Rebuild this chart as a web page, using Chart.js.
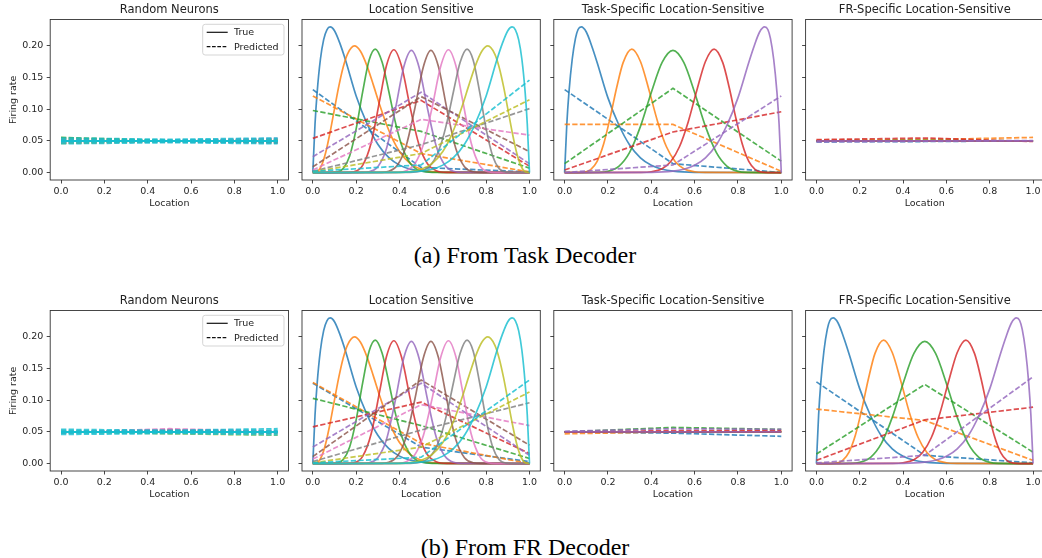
<!DOCTYPE html>
<html><head><meta charset="utf-8">
<script src="https://cdn.jsdelivr.net/npm/chart.js@4.4.1/dist/chart.umd.min.js"></script>
<style>
html,body{margin:0;padding:0;background:#fff;overflow:hidden;}
#wrap{position:relative;width:1042px;height:558px;overflow:hidden;background:#fff;}
canvas{position:absolute;}
.cap{position:absolute;left:4px;width:1042px;text-align:center;font-family:"Liberation Serif","Times New Roman",serif;font-size:24px;color:#000;line-height:28px;white-space:nowrap;}
</style></head><body>
<div id="wrap">
<canvas id="c0"></canvas><canvas id="c1"></canvas><canvas id="c2"></canvas><canvas id="c3"></canvas>
<canvas id="c4"></canvas><canvas id="c5"></canvas><canvas id="c6"></canvas><canvas id="c7"></canvas>
<div class="cap" id="cap0" style="top:241px"></div>
<div class="cap" id="cap1" style="top:533px"></div>
</div>
<script>
// ---------------- data ----------------
const panelTitles = ['Random Neurons', 'Location Sensitive', 'Task-Specific Location-Sensitive', 'FR-Specific Location-Sensitive'];
const captions = ['(a) From Task Decoder', '(b) From FR Decoder'];
const xTicks = [0, 0.2, 0.4, 0.6, 0.8, 1.0];
const yTicks = [0, 0.05, 0.10, 0.15, 0.20];
const predLocations = [0, 0.5, 1];
const flatLocations = [0, 1];
const legendLabels = ['True', 'Predicted'];

// true tuning curves of location-sensitive neurons: [location, firing rate]
const lsBlue = [[0,0],[0.01,0.076],[0.02,0.127],[0.035,0.179],[0.05,0.21],[0.065,0.2255],[0.08,0.23],[0.1,0.224],[0.125,0.204],[0.15,0.1785],[0.2,0.121],[0.25,0.0774],[0.3,0.0447],[0.35,0.0238],[0.4,0.0117],[0.45,0.0053],[0.5,0.0022],[0.6,0.0003],[1,0]];
const lsOrange = [[0,0],[0.02,0.0013],[0.04,0.0109],[0.06,0.0324],[0.08,0.0641],[0.1,0.1007],[0.12,0.1365],[0.14,0.1664],[0.16,0.1872],[0.192,0.2],[0.22,0.1916],[0.25,0.1686],[0.28,0.1377],[0.31,0.1054],[0.34,0.076],[0.37,0.0517],[0.4,0.0334],[0.45,0.0141],[0.5,0.0051],[0.55,0.0015],[0.6,0.0004],[1,0]];
const lsGreen = [[0,0],[0.08,0],[0.11,0.0007],[0.14,0.0062],[0.17,0.0262],[0.2,0.069],[0.23,0.1275],[0.26,0.1777],[0.288,0.195],[0.32,0.1742],[0.35,0.1293],[0.38,0.0808],[0.41,0.043],[0.44,0.0194],[0.47,0.0075],[0.5,0.0025],[0.55,0.0003],[1,0]];
const lsRed = [[0,0],[0.15,0],[0.19,0.0013],[0.23,0.0114],[0.27,0.0479],[0.31,0.1167],[0.34,0.169],[0.374,0.194],[0.41,0.1675],[0.45,0.1017],[0.49,0.0439],[0.53,0.0135],[0.57,0.0029],[0.62,0.0003],[1,0]];
const lsPurple = [[0,0],[0.22,0.0001],[0.26,0.0012],[0.3,0.0092],[0.34,0.038],[0.38,0.0984],[0.42,0.1672],[0.455,0.193],[0.49,0.1669],[0.53,0.1],[0.57,0.0412],[0.61,0.0115],[0.65,0.002],[0.7,0.0001],[1,0]];
const lsBrown = [[0,0],[0.3,0.0001],[0.35,0.002],[0.39,0.0115],[0.43,0.0412],[0.47,0.1],[0.51,0.1669],[0.545,0.193],[0.58,0.1672],[0.62,0.0984],[0.66,0.038],[0.7,0.0092],[0.74,0.0012],[0.78,0.0001],[1,0]];
const lsPink = [[0,0],[0.38,0.0003],[0.43,0.0029],[0.47,0.0135],[0.51,0.0439],[0.55,0.1017],[0.59,0.1675],[0.626,0.194],[0.66,0.169],[0.69,0.1167],[0.73,0.0479],[0.77,0.0114],[0.81,0.0013],[0.85,0],[1,0]];
const lsGray = [[0,0],[0.45,0.0003],[0.5,0.0025],[0.53,0.0075],[0.56,0.0194],[0.59,0.043],[0.62,0.0808],[0.65,0.1293],[0.68,0.1742],[0.712,0.195],[0.74,0.1777],[0.77,0.1275],[0.8,0.069],[0.83,0.0262],[0.86,0.0062],[0.89,0.0007],[0.92,0],[1,0]];
const lsOlive = [[0,0],[0.4,0.0004],[0.45,0.0015],[0.5,0.0051],[0.55,0.0141],[0.6,0.0334],[0.63,0.0517],[0.66,0.076],[0.69,0.1054],[0.72,0.1377],[0.75,0.1686],[0.78,0.1916],[0.808,0.2],[0.84,0.1872],[0.86,0.1664],[0.88,0.1365],[0.9,0.1007],[0.92,0.0641],[0.94,0.0324],[0.96,0.0109],[0.98,0.0013],[1,0]];
const lsCyan = [[0,0],[0.4,0.0003],[0.5,0.0022],[0.55,0.0053],[0.6,0.0117],[0.65,0.0238],[0.7,0.0447],[0.75,0.0774],[0.8,0.121],[0.85,0.1785],[0.875,0.204],[0.9,0.224],[0.92,0.23],[0.935,0.2255],[0.95,0.21],[0.965,0.179],[0.98,0.127],[0.99,0.076],[1,0]];
const lsTrue = [lsBlue, lsOrange, lsGreen, lsRed, lsPurple, lsBrown, lsPink, lsGray, lsOlive, lsCyan];

// true tuning curves of task-specific / FR-specific neurons
const tsBlue = [[0,0],[0.01,0.076],[0.02,0.127],[0.035,0.179],[0.05,0.212],[0.062,0.226],[0.077,0.23],[0.1,0.222],[0.125,0.2],[0.15,0.174],[0.2,0.118],[0.25,0.0755],[0.3,0.0435],[0.35,0.0232],[0.4,0.0114],[0.45,0.0052],[0.5,0.0021],[0.6,0.0003],[1,0]];
const tsOrange = [[0,0],[0.06,0],[0.09,0.0006],[0.12,0.0046],[0.15,0.0176],[0.18,0.045],[0.21,0.0865],[0.24,0.1339],[0.27,0.1736],[0.31,0.195],[0.35,0.1755],[0.39,0.1297],[0.43,0.0796],[0.47,0.0407],[0.51,0.0174],[0.55,0.0061],[0.6,0.0012],[0.65,0.0002],[1,0]];
const tsGreen = [[0,0],[0.1,0],[0.15,0.0002],[0.2,0.0019],[0.25,0.0099],[0.3,0.0319],[0.35,0.0729],[0.4,0.1266],[0.45,0.1739],[0.5,0.193],[0.55,0.1739],[0.6,0.1266],[0.65,0.0729],[0.7,0.0319],[0.75,0.0099],[0.8,0.0019],[0.85,0.0002],[0.9,0],[1,0]];
const tsRed = [[0,0],[0.35,0.0002],[0.4,0.0012],[0.45,0.0061],[0.49,0.0174],[0.53,0.0407],[0.57,0.0796],[0.61,0.1297],[0.65,0.1755],[0.69,0.195],[0.73,0.1736],[0.76,0.1339],[0.79,0.0865],[0.82,0.045],[0.85,0.0176],[0.88,0.0046],[0.91,0.0006],[0.94,0],[1,0]];
const tsPurple = [[0,0],[0.4,0.0003],[0.5,0.0021],[0.55,0.0052],[0.6,0.0114],[0.65,0.0232],[0.7,0.0435],[0.75,0.0755],[0.8,0.118],[0.85,0.174],[0.875,0.2],[0.9,0.222],[0.923,0.23],[0.938,0.226],[0.95,0.212],[0.965,0.179],[0.98,0.127],[0.99,0.076],[1,0]];
const tsTrue = [tsBlue, tsOrange, tsGreen, tsRed, tsPurple];

// flat true rates (non-selective responses), value at location 0 and 1
const flatTrue = [0.05, 0.05];

// predicted rates at locations 0, 0.5, 1
const predLsTask = [
  [0.131, 0.008, 0.001], [0.121, 0.030, 0.001], [0.098, 0.065, 0.007], [0.054, 0.114, 0.010], [0.025, 0.127, 0.014],
  [0.009, 0.120, 0.033], [0.004, 0.084, 0.059], [0.002, 0.044, 0.101], [0.001, 0.030, 0.115], [0.002, 0.012, 0.146]
];
const predLsFR = [
  [0.127, 0.026, 0.003], [0.128, 0.032, 0.000], [0.103, 0.060, 0.008], [0.058, 0.097, 0.016], [0.026, 0.127, 0.013],
  [0.011, 0.132, 0.029], [0.007, 0.093, 0.060], [0.003, 0.053, 0.096], [0.001, 0.026, 0.113], [0.001, 0.010, 0.132]
];
const predTsTask = [[0.131, 0.014, 0.000], [0.076, 0.076, 0.002], [0.014, 0.133, 0.018], [0.004, 0.064, 0.096], [0.000, 0.012, 0.121]];
const predFrTask = [[0.0485, 0.0490, 0.0500], [0.0510, 0.0520, 0.0555], [0.0500, 0.0510, 0.0500], [0.0520, 0.0545, 0.0490], [0.0485, 0.0495, 0.0505]];
const predTsFR = [[0.0500, 0.0480, 0.0430], [0.0470, 0.0500, 0.0510], [0.0500, 0.0570, 0.0540], [0.0500, 0.0520, 0.0520], [0.0510, 0.0550, 0.0540]];
const predFrFR = [[0.129, 0.013, 0.001], [0.086, 0.068, 0.005], [0.015, 0.125, 0.018], [0.005, 0.069, 0.089], [0.001, 0.013, 0.137]];
const randomPredTask = [
  [0.0500, 0.0495, 0.0505], [0.0540, 0.0500, 0.0520], [0.0555, 0.0505, 0.0510], [0.0465, 0.0490, 0.0480],
  [0.0490, 0.0500, 0.0530], [0.0515, 0.0495, 0.0465], [0.0480, 0.0505, 0.0540], [0.0505, 0.0490, 0.0490],
  [0.0460, 0.0495, 0.0510], [0.0545, 0.0525, 0.0545], [0.0522, 0.0512, 0.0525], [0.0500, 0.0498, 0.0502],
  [0.0478, 0.0485, 0.0476], [0.0455, 0.0472, 0.0455]
];
const randomPredFR = [
  [0.0495, 0.0500, 0.0505], [0.0500, 0.0495, 0.0490], [0.0505, 0.0510, 0.0500], [0.0490, 0.0520, 0.0495],
  [0.0500, 0.0535, 0.0510], [0.0485, 0.0530, 0.0500], [0.0490, 0.0550, 0.0505], [0.0510, 0.0490, 0.0480],
  [0.0500, 0.0470, 0.0448], [0.0540, 0.0525, 0.0550], [0.0520, 0.0512, 0.0527], [0.0500, 0.0500, 0.0503],
  [0.0480, 0.0487, 0.0478], [0.0460, 0.0474, 0.0452]
];

// ---------------- styling ----------------
const TAB10 = ['#1f77b4','#ff7f0e','#2ca02c','#d62728','#9467bd','#8c564b','#e377c2','#7f7f7f','#bcbd22','#17becf'];
const ALPHA = 0.82;
const LW = 1.7;
const FONT = "'DejaVu Sans', 'Liberation Sans', sans-serif";
const DASH = [5.3, 2.3];
function rgba(hex, a) {
  const n = parseInt(hex.slice(1), 16);
  return `rgba(${(n>>16)&255},${(n>>8)&255},${n&255},${a})`;
}
function trueDs(points, ci) {
  return { data: points.map(p => ({x: p[0], y: p[1]})), borderColor: rgba(TAB10[ci], ALPHA), borderWidth: LW,
    pointRadius: 0, cubicInterpolationMode: 'monotone', fill: false };
}
function flatDs(values, ci) {
  return { data: flatLocations.map((x, k) => ({x, y: values[k]})), borderColor: rgba(TAB10[ci], ALPHA), borderWidth: LW,
    pointRadius: 0, tension: 0, fill: false };
}
function predDs(values, ci) {
  return { data: predLocations.map((x, k) => ({x, y: values[k]})), borderColor: rgba(TAB10[ci], ALPHA), borderWidth: LW,
    borderDash: DASH, pointRadius: 0, tension: 0, fill: false };
}
function withOrder(list) { list.forEach((d, i) => d.order = -i); return list; }

function curvesSet(trueList, predList) {
  const out = [];
  trueList.forEach((t, i) => { out.push(trueDs(t, i)); out.push(predDs(predList[i], i)); });
  return withOrder(out);
}
function flatSet(n, predList) {
  const out = [];
  for (let i = 0; i < n; i++) { out.push(flatDs(flatTrue, i)); out.push(predDs(predList[i], i)); }
  return withOrder(out);
}
function randomSet(predList) {
  const out = [];
  predList.forEach((p, i) => { const ci = Math.min(i, 9); out.push(flatDs(flatTrue, ci)); out.push(predDs(p, ci)); });
  return withOrder(out);
}

const framePlugin = {
  id: 'frame',
  afterDraw(chart) {
    const {ctx, chartArea: a} = chart;
    ctx.save(); ctx.strokeStyle = '#333'; ctx.lineWidth = 0.9;
    ctx.strokeRect(a.left, a.top, a.right - a.left, a.bottom - a.top);
    ctx.restore();
  }
};
const legendPlugin = {
  id: 'boxLegend',
  afterDraw(chart) {
    const {ctx, chartArea: a} = chart;
    const x0 = a.left + 152.5, x1 = a.right - 4.5, y0 = a.top + 4.8, y1 = a.top + 35.5, r = 2.5;
    ctx.save();
    ctx.beginPath();
    ctx.moveTo(x0 + r, y0); ctx.lineTo(x1 - r, y0); ctx.quadraticCurveTo(x1, y0, x1, y0 + r);
    ctx.lineTo(x1, y1 - r); ctx.quadraticCurveTo(x1, y1, x1 - r, y1); ctx.lineTo(x0 + r, y1);
    ctx.quadraticCurveTo(x0, y1, x0, y1 - r); ctx.lineTo(x0, y0 + r); ctx.quadraticCurveTo(x0, y0, x0 + r, y0);
    ctx.closePath();
    ctx.fillStyle = 'rgba(255,255,255,0.8)'; ctx.fill();
    ctx.strokeStyle = '#d0d0d0'; ctx.lineWidth = 0.9; ctx.stroke();
    const rows = [a.top + 12.8, a.top + 27.2];
    ctx.strokeStyle = '#111'; ctx.lineWidth = 1.2;
    rows.forEach((y, k) => {
      ctx.setLineDash(k === 0 ? [] : [3.7, 1.6]);
      ctx.beginPath(); ctx.moveTo(a.left + 156.5, y); ctx.lineTo(a.left + 177.5, y); ctx.stroke();
    });
    ctx.setLineDash([]);
    ctx.fillStyle = '#222'; ctx.font = `9.5px ${FONT}`; ctx.textBaseline = 'middle'; ctx.textAlign = 'left';
    rows.forEach((y, k) => ctx.fillText(legendLabels[k], a.left + 183.8, y + 0.5));
    ctx.restore();
  }
};

// panel geometry (chart area left edges and canvas placement)
const colCanvasLeft = [0, 292, 543, 795];
const colCanvasWidth = [293, 253, 254, 254];
const colYAxisW = [50.2, 10.0, 10.8, 10.6];
const colPadRight = [4.5, 4.7, 4.9, 5.1];
const rowCanvasTop = [0, 291];
const CANVAS_H = 212;

function makePanel(idx, row, col, datasets, showLegend) {
  const cv = document.getElementById('c' + idx);
  cv.width = colCanvasWidth[col]; cv.height = CANVAS_H;
  cv.style.left = colCanvasLeft[col] + 'px'; cv.style.top = rowCanvasTop[row] + 'px';
  cv.style.width = colCanvasWidth[col] + 'px'; cv.style.height = CANVAS_H + 'px';
  const showY = col === 0;
  const tickFont = {family: FONT, size: 9.5, lineHeight: 1.2};
  const grid = {drawOnChartArea: false, drawTicks: true, tickLength: 3.5, tickWidth: 0.9, tickColor: '#333', color: '#333'};
  new Chart(cv, {
    type: 'line',
    data: {datasets},
    options: {
      responsive: false, animation: false, devicePixelRatio: 1,
      layout: {padding: {left: 0, right: colPadRight[col], top: 0, bottom: 0}},
      plugins: {
        legend: {display: false}, tooltip: {enabled: false},
        title: {display: true, text: panelTitles[col], fullSize: false, color: '#222',
          font: {family: FONT, size: 11.5, lineHeight: 1.2, weight: 'normal'}, padding: {top: 3.1, bottom: 2.6}}
      },
      scales: {
        x: {
          type: 'linear', position: 'bottom', min: -0.05, max: 1.05,
          afterBuildTicks: s => { s.ticks = xTicks.map(v => ({value: v})); },
          afterFit: s => { s.height = 32; },
          ticks: {callback: v => Number(v).toFixed(1), autoSkip: false, maxRotation: 0, color: '#262626', font: tickFont, padding: 2},
          grid, border: {display: false},
          title: {display: true, text: 'Location', color: '#262626', font: tickFont, padding: {top: 0, bottom: 3}}
        },
        y: {
          type: 'linear', position: 'left', min: -0.0118, max: 0.2418,
          afterBuildTicks: s => { s.ticks = yTicks.map(v => ({value: v})); },
          afterFit: s => { s.width = colYAxisW[col]; },
          ticks: {display: showY, callback: v => Number(v).toFixed(2), autoSkip: false, color: '#262626', font: tickFont, padding: 3.4},
          grid, border: {display: false},
          title: {display: showY, text: 'Firing rate', color: '#262626', font: tickFont, padding: {top: 7.6, bottom: 0}}
        }
      }
    },
    plugins: showLegend ? [framePlugin, legendPlugin] : [framePlugin]
  });
}

document.getElementById('cap0').textContent = captions[0];
document.getElementById('cap1').textContent = captions[1];

makePanel(0, 0, 0, randomSet(randomPredTask), true);
makePanel(1, 0, 1, curvesSet(lsTrue, predLsTask), false);
makePanel(2, 0, 2, curvesSet(tsTrue, predTsTask), false);
makePanel(3, 0, 3, flatSet(5, predFrTask), false);
makePanel(4, 1, 0, randomSet(randomPredFR), true);
makePanel(5, 1, 1, curvesSet(lsTrue, predLsFR), false);
makePanel(6, 1, 2, flatSet(5, predTsFR), false);
makePanel(7, 1, 3, curvesSet(tsTrue, predFrFR), false);
</script>
</body></html>
